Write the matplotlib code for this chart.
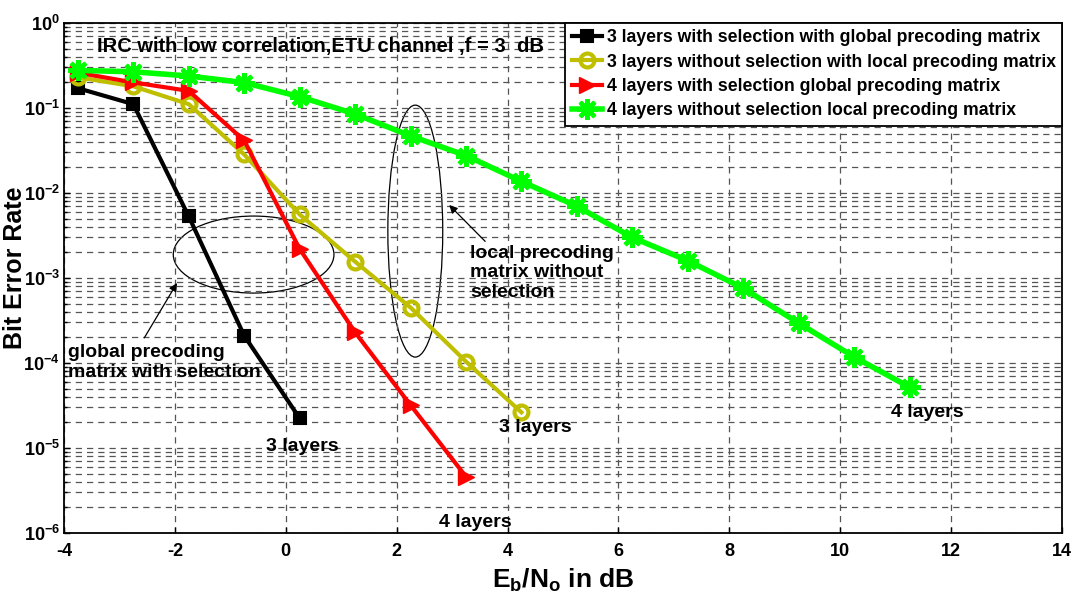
import numpy as np
import matplotlib
matplotlib.use("Agg")
import matplotlib.pyplot as plt
from matplotlib.patches import Ellipse
from matplotlib.ticker import LogLocator, NullFormatter, FixedLocator

plt.rcParams["font.family"] = "Liberation Sans"
plt.rcParams["font.weight"] = "bold"
plt.rcParams["mathtext.fontset"] = "custom"
plt.rcParams["mathtext.rm"] = "Liberation Sans:bold"
plt.rcParams["mathtext.bf"] = "Liberation Sans:bold"
plt.rcParams["mathtext.it"] = "Liberation Sans:bold"

# Eb/No points (dB) and BER for each scheme
snr_3_global = [-3.75, -2.75, -1.75, -0.75, 0.25]
ber_3_global = [0.171, 0.111, 5.3e-3, 2.1e-4, 2.24e-5]

snr_3_local = [-3.75, -2.75, -1.75, -0.75, 0.25, 1.25, 2.25, 3.25, 4.25]
ber_3_local = [0.23, 0.18, 0.111, 0.0284, 5.6e-3, 1.56e-3, 4.5e-4, 1.04e-4, 2.63e-5]

snr_4_global = [-3.75, -2.75, -1.75, -0.75, 0.25, 1.25, 2.25, 3.25]
ber_4_global = [0.26, 0.2, 0.159, 0.0415, 2.2e-3, 2.3e-4, 3.2e-5, 4.6e-6]

snr_4_local = [-3.75, -2.75, -1.75, -0.75, 0.25, 1.25, 2.25, 3.25, 4.25,
               5.25, 6.25, 7.25, 8.25, 9.25, 10.25, 11.25]
ber_4_local = [0.277, 0.267, 0.238, 0.199, 0.136, 0.085, 0.047, 0.0276, 0.0137,
               7.0e-3, 3.0e-3, 1.6e-3, 7.6e-4, 2.95e-4, 1.18e-4, 5.2e-5]

labels = [
    "3 layers with selection with global precoding matrix",
    "3 layers without selection with local precoding matrix",
    "4 layers with selection global precoding matrix",
    "4 layers without selection local precoding matrix",
]

fig = plt.figure(figsize=(10.74, 6.01), dpi=100)
ax = fig.add_axes([0.0596, 0.1131, 0.9292, 0.8486])

ax.semilogy(snr_3_global, ber_3_global, color="black", lw=3, marker="s",
            ms=9, mfc="black", mec="black", mew=1.5, label=labels[0])
ax.semilogy(snr_3_local, ber_3_local, color="#BFBF00", lw=3, marker="o",
            ms=10, mfc="none", mec="#BFBF00", mew=3, label=labels[1])
ax.semilogy(snr_4_global, ber_4_global, color="red", lw=3, marker=">",
            ms=12, mfc="red", mec="red", mew=1, label=labels[2])
ax.semilogy(snr_4_local, ber_4_local, color="#00FF00", lw=4, marker=(8, 2, 0),
            ms=15, mfc="#00FF00", mec="#00FF00", mew=3, label=labels[3])

ax.set_xlim(-4, 14)
ax.set_ylim(1e-6, 1)
ax.xaxis.set_major_locator(FixedLocator(np.arange(-4, 15, 2)))
ax.yaxis.set_minor_locator(LogLocator(base=10, subs=np.arange(2, 10), numticks=20))
ax.yaxis.set_minor_formatter(NullFormatter())
ax.set_yticks([10.0 ** k for k in range(-6, 1)])
ax.set_yticklabels([r"$10^{%d}$" % k for k in range(-6, 1)], fontsize=13)
ax.set_xticklabels([str(v) for v in range(-4, 15, 2)], fontsize=13, fontweight="bold")

ax.grid(True, which="major", color="#555555", linestyle=(0, (5, 4)), lw=0.9)
ax.grid(True, which="minor", axis="y", color="#555555", linestyle=(0, (5, 4)), lw=0.9)
ax.tick_params(which="both", direction="in", length=4, width=1)
ax.tick_params(axis="y", pad=3)
ax.tick_params(axis="x", pad=7)
ax.tick_params(which="minor", length=2)
for sp in ax.spines.values():
    sp.set_linewidth(1.3)

ax.set_xlabel(r"$\mathbf{E_b/N_o}$ in dB", fontsize=19, fontweight="bold", labelpad=5)
ax.set_ylabel("Bit Error Rate", fontsize=18, fontweight="bold")
ax.yaxis.set_label_coords(-0.037, 0.52)

ax.text(0.2565, 0.953, "IRC with low correlation,ETU channel ,f = 3  dB",
        transform=ax.transAxes, ha="center", va="center", fontsize=14.5,
        fontweight="bold")

leg = ax.legend(loc="upper right", fontsize=12.7, frameon=True, fancybox=False,
                framealpha=1, edgecolor="black", borderpad=0.35, labelspacing=0.42,
                handlelength=1.7, handletextpad=0.3, borderaxespad=0)
leg.get_frame().set_linewidth(1.3)
for t in leg.get_texts():
    t.set_fontweight("bold")

# ellipses grouping the curves
ax.add_patch(Ellipse((0.19, 0.546), 0.161, 0.151, transform=ax.transAxes,
                     fill=False, edgecolor="black", lw=0.9))
ax.add_patch(Ellipse((0.352, 0.592), 0.055, 0.494, transform=ax.transAxes,
                     fill=False, edgecolor="black", lw=0.9))

ax.annotate("", xy=(0.1147, 0.495), xytext=(0.079, 0.378),
            xycoords="axes fraction", textcoords="axes fraction",
            arrowprops=dict(arrowstyle="-|>", color="black", lw=0.9, mutation_scale=12))
ax.text(0.004, 0.37, "global precoding\nmatrix with selection",
        transform=ax.transAxes, ha="left", va="top", fontsize=14,
        fontweight="bold", linespacing=1.2)

ax.annotate("", xy=(0.384, 0.647), xytext=(0.424, 0.568),
            xycoords="axes fraction", textcoords="axes fraction",
            arrowprops=dict(arrowstyle="-|>", color="black", lw=0.9, mutation_scale=12))
ax.text(0.407, 0.565, "local precoding\nmatrix without\nselection",
        transform=ax.transAxes, ha="left", va="top", fontsize=14,
        fontweight="bold", linespacing=1.2)

ax.text(0.239, 0.169, "3 layers", transform=ax.transAxes, ha="center",
        va="center", fontsize=14, fontweight="bold")
ax.text(0.472, 0.206, "3 layers", transform=ax.transAxes, ha="center",
        va="center", fontsize=14, fontweight="bold")
ax.text(0.865, 0.237, "4 layers", transform=ax.transAxes, ha="center",
        va="center", fontsize=14, fontweight="bold")
ax.text(0.412, 0.021, "4 layers", transform=ax.transAxes, ha="center",
        va="center", fontsize=14, fontweight="bold")

fig.savefig("out.png", dpi=100)
